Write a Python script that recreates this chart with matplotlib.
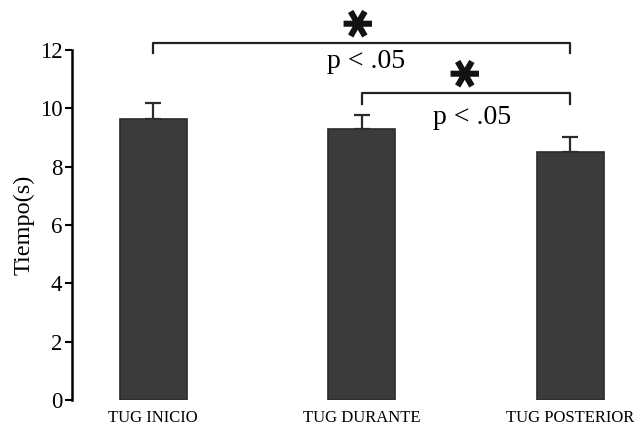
import numpy as np
import matplotlib
matplotlib.use("Agg")
import matplotlib.pyplot as plt

categories = ['TUG INICIO', 'TUG DURANTE', 'TUG POSTERIOR']
means = [9.65, 9.3, 8.5]
errors = [0.52, 0.48, 0.52]
yticks = [0, 2, 4, 6, 8, 10, 12]

plt.rcParams['font.family'] = ['Liberation Serif', 'DejaVu Serif']

fig = plt.figure(figsize=(6.37, 4.26), dpi=100)
ax = fig.add_axes([72 / 637, 26 / 426, 565 / 637, 350 / 426])

x = np.arange(len(categories))
ax.bar(x, means, width=0.32, color='#3b3b3b', edgecolor='#2b2b2b', linewidth=1.2, zorder=2)
ax.errorbar(x, means, yerr=[np.zeros(len(means)), errors], fmt='none',
            ecolor='#2b2b2b', elinewidth=1.6, capsize=6, capthick=1.6, zorder=1)

ax.set_xlim(-0.39, 2.32)
ax.set_ylim(0, 12)
ax.set_yticks(yticks)
ax.set_xticks(x)
ax.set_xticklabels(categories, fontsize=12)
ax.tick_params(axis='x', length=0, pad=7)
ax.tick_params(axis='y', direction='out', length=5, width=1.5, labelsize=16.5, pad=2)
for s in ['top', 'right', 'bottom']:
    ax.spines[s].set_visible(False)
ax.spines['left'].set_linewidth(1.8)
ax.set_ylabel('Tiempo(s)', fontsize=17.5, labelpad=4)


def bracket(x0, x1, y, drop, star_x, star_y, p_x, p_y):
    ax.plot([x0, x0, x1, x1], [y - drop, y, y, y - drop], color='#222222',
            lw=1.6, clip_on=False, zorder=3)
    ax.text(star_x, star_y, '✱', family='DejaVu Sans', fontsize=28, rotation=90,
            ha='center', va='center', color='#111111')
    ax.text(p_x, p_y, 'p < .05', fontsize=20, ha='center', va='center')


bracket(0, 2, 12.24, 0.34, 0.99, 13.02, 1.02, 11.59)
bracket(1, 2, 10.52, 0.37, 1.5, 11.3, 1.53, 9.7)

fig.savefig('out.png', dpi=100)
